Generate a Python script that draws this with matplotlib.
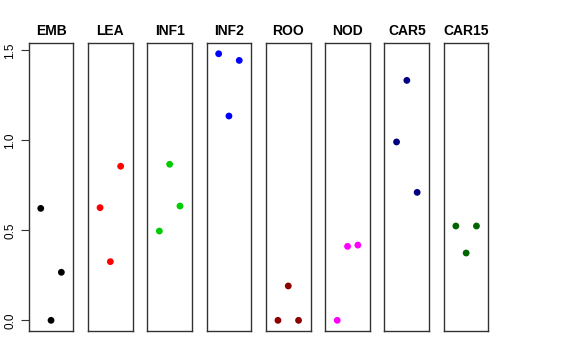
import matplotlib
matplotlib.use('Agg')
import matplotlib.pyplot as plt

# --- Data ---
tissues = ['EMB', 'LEA', 'INF1', 'INF2', 'ROO', 'NOD', 'CAR5', 'CAR15']
colors = ['black', '#FF0000', '#00CD00', '#0000FF', '#8B0000', '#FF00FF', '#000080', '#006400']
rep_x = [1, 2, 3]
values = {
    'EMB':   [0.622, 0.000, 0.267],
    'LEA':   [0.626, 0.326, 0.856],
    'INF1':  [0.496, 0.867, 0.635],
    'INF2':  [1.481, 1.135, 1.444],
    'ROO':   [0.000, 0.191, 0.000],
    'NOD':   [0.000, 0.411, 0.418],
    'CAR5':  [0.991, 1.333, 0.711],
    'CAR15': [0.524, 0.374, 0.524],
}
y_ticks = [0.0, 0.5, 1.0, 1.5]

# --- Layout (pixels) ---
W, H = 576, 360
PANEL_LEFT = 28.7
PANEL_STEP = 59.3
PANEL_W = 44.7
PANEL_TOP = 43.3
PANEL_BOTTOM = 331.0

plt.rcParams['font.family'] = ['Liberation Sans', 'DejaVu Sans']

fig = plt.figure(figsize=(W / 100, H / 100), dpi=100)

for i, (name, col) in enumerate(zip(tissues, colors)):
    left = PANEL_LEFT + i * PANEL_STEP
    ax = fig.add_axes([left / W, (H - PANEL_BOTTOM) / H,
                       PANEL_W / W, (PANEL_BOTTOM - PANEL_TOP) / H])
    ax.scatter(rep_x, values[name], s=24, color=col, edgecolors='none')
    ax.set_xlim(2 - 2.17, 2 + 2.17)
    ax.set_ylim(-0.0592, 1.539)
    ax.set_xticks([])
    ax.set_title(name, fontsize=10, fontweight='bold', pad=6)
    for sp in ax.spines.values():
        sp.set_color('#333333')
        sp.set_linewidth(1.0)
    if i == 0:
        ax.set_yticks(y_ticks)
        ax.set_yticklabels([f'{v:.1f}' for v in y_ticks], rotation=90,
                           va='center', fontsize=8.5)
        ax.tick_params(axis='y', length=6, width=0.8, color='#333333', pad=3)
    else:
        ax.set_yticks([])

fig.savefig('out.png', dpi=100)
